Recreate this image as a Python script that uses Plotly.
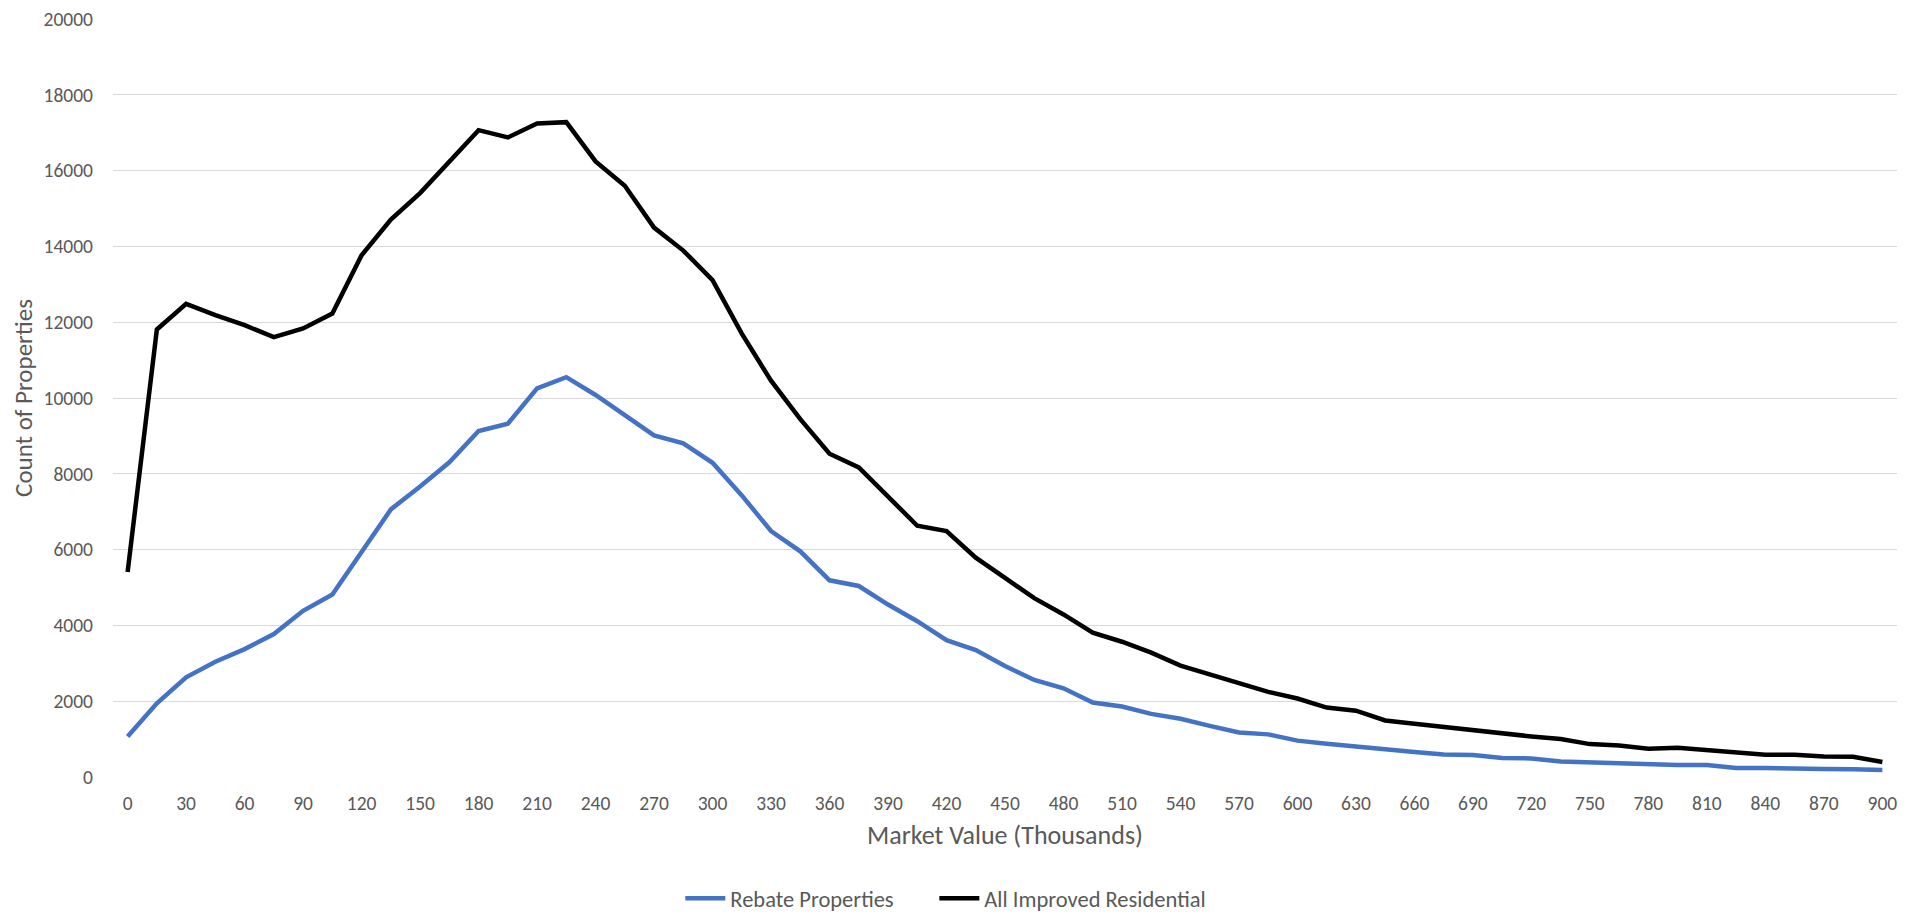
import plotly.graph_objects as go

market_value = [0, 15, 30, 45, 60, 75, 90, 105, 120, 135, 150, 165, 180, 195, 210,
                225, 240, 255, 270, 285, 300, 315, 330, 345, 360, 375, 390, 405, 420,
                435, 450, 465, 480, 495, 510, 525, 540, 555, 570, 585, 600, 615, 630,
                645, 660, 675, 690, 705, 720, 735, 750, 765, 780, 795, 810, 825, 840,
                855, 870, 885, 900]

rebate = [1070, 1945, 2630, 3040, 3375, 3770, 4385, 4815, 5935, 7060, 7665, 8305,
          9130, 9320, 10255, 10550, 10080, 9530, 9015, 8805, 8290, 7430, 6490, 5955,
          5190, 5040, 4550, 4110, 3610, 3350, 2930, 2560, 2340, 1965, 1860, 1665,
          1535, 1350, 1175, 1125, 960, 877, 798, 719, 658, 596, 579, 500, 491, 412,
          386, 360, 333, 316, 316, 237, 237, 237, 210, 202, 184]

all_residential = [5410, 11808, 12485, 12186, 11922, 11606, 11835, 12230, 13766,
                   14706, 15408, 16242, 17067, 16874, 17243, 17278, 16242, 15601,
                   14495, 13890, 13108, 11700, 10456, 9441, 8528, 8170, 7384, 6630,
                   6490, 5788, 5253, 4718, 4289, 3806, 3569, 3280, 2938, 2710, 2491,
                   2245, 2070, 1833, 1750, 1491, 1403, 1315, 1245, 1131, 1070, 1000,
                   868, 833, 745, 772, 710, 631, 588, 588, 544, 535, 395]

y_ticks = [0, 2000, 4000, 6000, 8000, 10000, 12000, 14000, 16000, 18000, 20000]
x_ticks = [0, 30, 60, 90, 120, 150, 180, 210, 240, 270, 300, 330, 360, 390, 420, 450,
           480, 510, 540, 570, 600, 630, 660, 690, 720, 750, 780, 810, 840, 870, 900]

font_family = "Calibri, Carlito, Liberation Sans, Arial, sans-serif"
grey = "#595959"

fig = go.Figure()
fig.add_trace(go.Scatter(x=market_value, y=rebate, mode="lines", name="Rebate Properties",
                         line=dict(color="#4472C4", width=4.5), legend="legend"))
fig.add_trace(go.Scatter(x=market_value, y=all_residential, mode="lines",
                         name="All Improved Residential",
                         line=dict(color="#000000", width=4.5), legend="legend2"))

# page body has an 8px margin, so the figure is sized/offset to land where the chart sits
legend_style = dict(orientation="h", xanchor="left", yref="container", y=0.018,
                    yanchor="middle", font=dict(size=22.5, color=grey), itemwidth=40)
fig.update_layout(
    width=1913, height=907,
    margin=dict(l=105, r=24, t=11, b=138),
    plot_bgcolor="white", paper_bgcolor="white",
    font=dict(family=font_family, color=grey, size=19.5),
    showlegend=True,
    legend=dict(x=0.318, **legend_style),
    legend2=dict(x=0.4604, **legend_style),
)
fig.update_xaxes(
    range=[-7.5, 907.5], tickmode="array", tickvals=x_ticks, automargin=False,
    showgrid=False, zeroline=False, showline=False, ticks="",
    ticklabelstandoff=12,
    tickfont=dict(size=19.5, color=grey),
    title=dict(text="Market Value (Thousands)", font=dict(size=26, color=grey), standoff=12),
)
fig.update_yaxes(
    range=[0, 20000], tickmode="array", tickvals=y_ticks, tickformat="d", automargin=False,
    showgrid=True, gridcolor="#D9D9D9", gridwidth=1, zeroline=False, showline=False,
    ticks="", ticklabelstandoff=19, ticklabeloverflow="allow",
    tickfont=dict(size=19.5, color=grey),
    title=dict(text="Count of Properties", font=dict(size=25, color=grey), standoff=8),
)

fig.write_html("out.html")
